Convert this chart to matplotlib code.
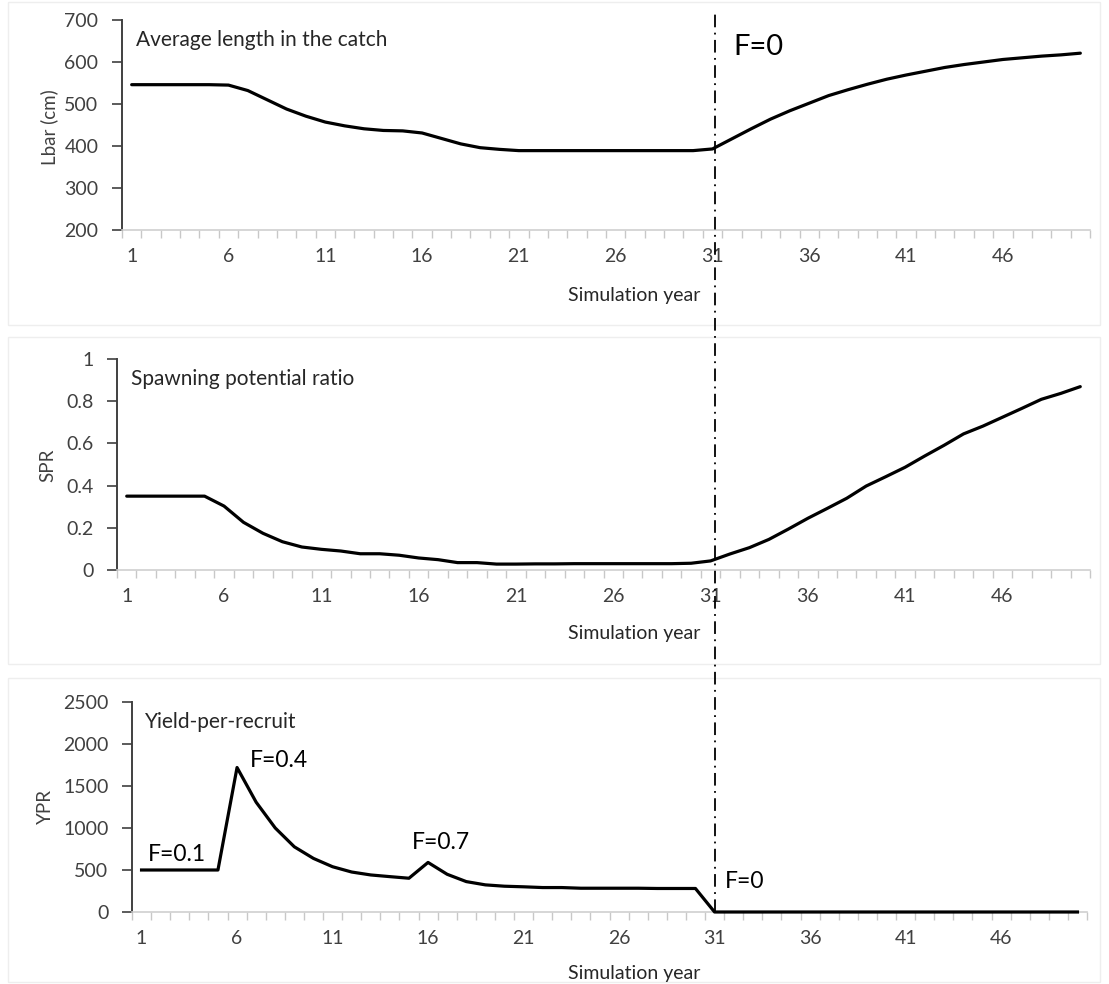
import matplotlib.pyplot as plt, numpy as np, matplotlib
from matplotlib.patches import Rectangle
from matplotlib.lines import Line2D

matplotlib.rcParams['font.family'] = ['Lato', 'DejaVu Sans']

years = np.arange(1, 51)

lbar = [546, 546, 546, 546, 546, 545, 532, 510, 488, 471,
        457, 448, 441, 437, 436, 431, 418, 405, 396, 392,
        389, 389, 389, 389, 389, 389, 389, 389, 389, 389,
        393, 417, 441, 464, 484, 502, 520, 534, 547, 559,
        569, 578, 587, 594, 600, 606, 610, 614, 617, 621]

spr = [0.35, 0.35, 0.35, 0.35, 0.35, 0.303, 0.226, 0.174, 0.134, 0.109,
       0.098, 0.090, 0.077, 0.077, 0.070, 0.057, 0.049, 0.035, 0.035, 0.028,
       0.028, 0.029, 0.029, 0.030, 0.030, 0.030, 0.030, 0.030, 0.030, 0.032,
       0.043, 0.076, 0.106, 0.145, 0.194, 0.245, 0.292, 0.340, 0.398, 0.442,
       0.487, 0.540, 0.591, 0.645, 0.682, 0.724, 0.766, 0.809, 0.837, 0.869]

ypr = [500, 500, 500, 500, 500, 1720, 1307, 1000, 776, 638,
       539, 476, 441, 421, 402, 590, 449, 362, 323, 307,
       300, 291, 291, 283, 283, 283, 283, 280, 280, 280,
       0, 0, 0, 0, 0, 0, 0, 0, 0, 0,
       0, 0, 0, 0, 0, 0, 0, 0, 0, 0]

xtick_years = [1, 6, 11, 16, 21, 26, 31, 36, 41, 46]

W, H = 1109, 984
fig = plt.figure(figsize=(W / 100, H / 100), dpi=100)

def px_axes(left, right, top, bottom):
	return fig.add_axes([left / W, 1 - bottom / H, (right - left) / W, (bottom - top) / H])

def style(ax, ylim, yticks, ylabel, lab_xy, title, label_y):
	ax.set_xlim(0.5, 50.5)
	ax.set_ylim(*ylim)
	ax.set_yticks(yticks)
	ax.set_yticklabels([('%g' % v) for v in yticks])
	ax.set_xticks(xtick_years)
	ax.set_xticklabels([str(v) for v in xtick_years])
	ax.set_xticks(np.arange(0.5, 51, 1), minor=True)
	ax.tick_params(axis='x', which='major', length=0, pad=13, labelsize=14, labelcolor='#404040')
	ax.tick_params(axis='x', which='minor', length=6, color='#c8c8c8', width=1)
	ax.tick_params(axis='y', length=7, width=1.2, color='#404040', labelsize=14, labelcolor='#404040', pad=10)
	for s in ['top', 'right']:
		ax.spines[s].set_visible(False)
	ax.spines['bottom'].set_color('#d0d0d0')
	ax.spines['bottom'].set_linewidth(1.2)
	ax.spines['left'].set_color('#404040')
	ax.spines['left'].set_linewidth(1.4)
	fig.text(lab_xy[0] / W, 1 - lab_xy[1] / H, ylabel, rotation=90, fontsize=13.5, color='#404040',
	         ha='center', va='center')
	ax.text(0.014, 0.905, title, transform=ax.transAxes, fontsize=15, color='#262626', va='center')
	fig.text(634 / W, 1 - label_y / H, 'Simulation year', fontsize=14, color='#262626', ha='center', va='center')

# faint panel frames
for top, bottom in [(2, 325), (337, 664), (678, 982)]:
	fig.add_artist(Rectangle((8 / W, 1 - bottom / H), 1092 / W, (bottom - top) / H,
	                         transform=fig.transFigure, fill=False, edgecolor='#eeeeee', lw=1))

ax1 = px_axes(122, 1090, 20, 230)
ax1.plot(years, lbar, color='black', lw=2.3, solid_capstyle='round')
style(ax1, (200, 700), [200, 300, 400, 500, 600, 700], 'Lbar (cm)', (49, 127),
      'Average length in the catch', 296)

ax2 = px_axes(117, 1090, 359, 570)
ax2.plot(years, spr, color='black', lw=2.3, solid_capstyle='round', zorder=3)
style(ax2, (0, 1), [0, 0.2, 0.4, 0.6, 0.8, 1], 'SPR', (48, 465),
      'Spawning potential ratio', 634)

ax3 = px_axes(132, 1087, 702, 912)
ax3.plot(years, ypr, color='black', lw=2.3, clip_on=False, zorder=3)
style(ax3, (0, 2500), [0, 500, 1000, 1500, 2000, 2500], 'YPR', (45, 807),
      'Yield-per-recruit', 973)

# F annotations
ax3.text(1.34, 690, 'F=0.1', fontsize=16.5, color='black', va='center')
ax3.text(6.68, 1798, 'F=0.4', fontsize=16.5, color='black', va='center')
ax3.text(15.16, 833, 'F=0.7', fontsize=16.5, color='black', va='center')
ax3.text(31.55, 369, 'F=0', fontsize=16.5, color='black', va='center')
ax1.text(32.1, 636, 'F=0', fontsize=21, color='black', va='center')

# dash-dot line at year 31 through all panels
xf = fig.transFigure.inverted().transform(ax3.transData.transform((31, 0)))[0]
fig.add_artist(Line2D([xf, xf], [1 - 912 / H, 1 - 10 / H], transform=fig.transFigure,
                      color='black', lw=1.3, linestyle=(0, (7, 3, 1, 3))))

fig.savefig('out.png', dpi=100)
